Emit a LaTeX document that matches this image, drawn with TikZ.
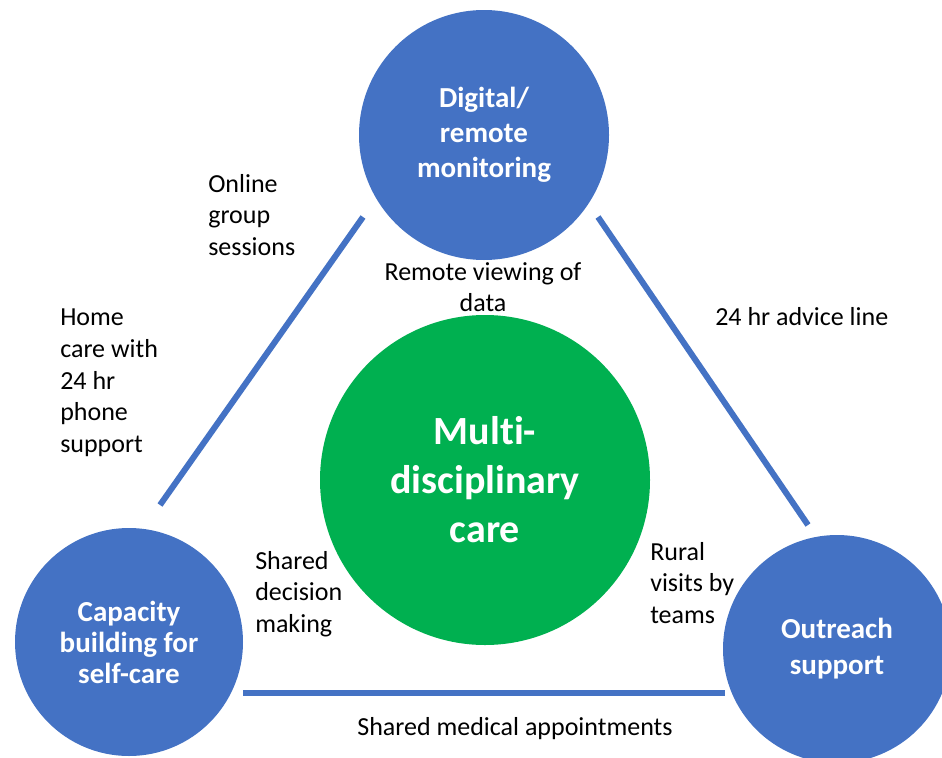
\documentclass[tikz,border=0pt]{standalone}
\usepackage{fontspec}
\setmainfont{Carlito}[Ligatures=NoCommon]
\definecolor{hubblue}{HTML}{4472C4}
\definecolor{hubgreen}{HTML}{00B050}
\begin{document}
\begin{tikzpicture}[x=0.75pt,y=-0.75pt,
  hub/.style={circle, fill=hubblue, inner sep=0pt, text=white, align=center,
    font=\fontsize{21.75pt}{26.25pt}\selectfont\bfseries},
  core/.style={circle, fill=hubgreen, inner sep=0pt, text=white, align=center,
    font=\fontsize{30pt}{36.75pt}\selectfont\bfseries},
  note/.style={inner sep=0pt, align=left, anchor=north west, text=black,
    font=\fontsize{19.5pt}{23.75pt}\selectfont},
  link/.style={draw=hubblue, line width=4.5pt}
]
\clip (0,0) rectangle (942,757);
\fill[white] (0,0) rectangle (942,757);

% triangle sides (end points sit just clear of the circles)
\coordinate (lA) at (363,217);
\coordinate (lB) at (160,505);
\coordinate (rA) at (598,217);
\coordinate (rB) at (808,525);
\coordinate (bA) at (243,693);
\coordinate (bB) at (725,693);
\draw[link] (lA) -- (lB);
\draw[link] (rA) -- (rB);
\draw[link] (bA) -- (bB);

% circles
\node[hub, minimum size=187.5pt] (dig) at (484,135) {Digital/\\remote\\monitoring};
\node[core, minimum size=247.5pt] (mdc) at (485,480) {Multi-\\disciplinary\\care};
\node[hub, minimum size=171pt, font=\fontsize{21.75pt}{23.25pt}\selectfont\bfseries] (cap) at (129,642) {Capacity\\building for\\self-care};
\node[hub, minimum size=171pt, font=\fontsize{21.75pt}{27pt}\selectfont\bfseries] (out) at (837,649) {Outreach\\support};

% labels
\node[note] (online) at (208,174) {Online\\group\\sessions};
\node[note] (home) at (60,309) {Home\\care with\\24 hr\\phone\\support};
\node[note, anchor=north, align=center] (remote) at (483,262) {Remote viewing of\\data};
\node[note] (advice) at (715,307) {24 hr advice line};
\node[note] (decide) at (255,551) {Shared\\decision\\making};
\node[note] (rural) at (650,542) {Rural\\visits by\\teams};
\node[note, anchor=north, align=center] (appts) at (515,717) {Shared medical appointments};
\end{tikzpicture}
\end{document}
